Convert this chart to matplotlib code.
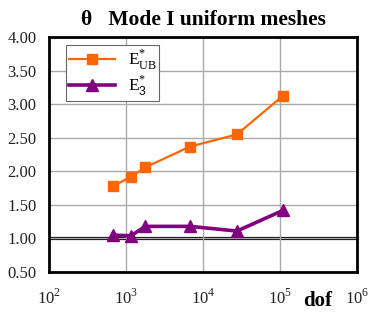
import matplotlib as mpl
import matplotlib.pyplot as plt

mpl.rcParams['font.family'] = ['Liberation Serif', 'DejaVu Serif']
mpl.rcParams['mathtext.fontset'] = 'custom'
mpl.rcParams['mathtext.rm'] = 'Liberation Serif'
mpl.rcParams['mathtext.sf'] = 'Liberation Sans'

# data
dof = [680, 1160, 1780, 6800, 27500, 110000]
e_ub = [1.78, 1.92, 2.06, 2.37, 2.55, 3.13]
e_3 = [1.05, 1.04, 1.18, 1.18, 1.11, 1.42]
yticks = [0.5, 1.0, 1.5, 2.0, 2.5, 3.0, 3.5, 4.0]
xticks = [1e2, 1e3, 1e4, 1e5, 1e6]
xlabels = ['$10^{2}$', '$10^{3}$', '$10^{4}$', '$10^{5}$', '$10^{6}$']

fig = plt.figure(figsize=(3.74, 3.2), dpi=100)
ax = fig.add_axes([0.131, 0.15, 0.824, 0.734])

ax.plot(dof, e_ub, color='#FF6600', lw=1.6, marker='s', ms=7.5,
        label=r'$\mathrm{E}^{*}_{\mathrm{UB}}$')
ax.plot(dof, e_3, color='#800080', lw=2.6, marker='^', ms=9,
        label=r'$\mathrm{E}^{*}_{\mathsf{3}}$')

ax.set_xscale('log')
ax.set_xlim(1e2, 1e6)
ax.set_ylim(0.5, 4.0)
ax.set_xticks(xticks)
ax.set_xticklabels(xlabels)
ax.minorticks_off()
ax.set_yticks(yticks)
ax.set_yticklabels(['%.2f' % v for v in yticks])
ax.tick_params(length=0, labelsize=12, colors='#222222')
ax.tick_params(axis='x', pad=12)
ax.tick_params(axis='y', pad=9)

ax.grid(True, color='#AAAAAA', lw=1)
ax.axhline(1.0, color='black', lw=2.3, zorder=1.5)
for s in ax.spines.values():
    s.set_linewidth(2)
    s.set_color('black')

ax.set_title('θ   Mode I uniform meshes', fontsize=15.5, fontweight='bold', pad=9)
fig.text(0.85, 0.045, 'dof', fontsize=15, fontweight='bold', ha='center')

leg = ax.legend(loc='upper left', bbox_to_anchor=(0.055, 0.965), fontsize=12.5,
                fancybox=False, edgecolor='#666666', framealpha=1,
                handlelength=2.7, borderpad=0.15, labelspacing=0.1,
                handletextpad=0.7, borderaxespad=0)
leg.get_frame().set_linewidth(0.8)

fig.savefig('out.png', dpi=100)
